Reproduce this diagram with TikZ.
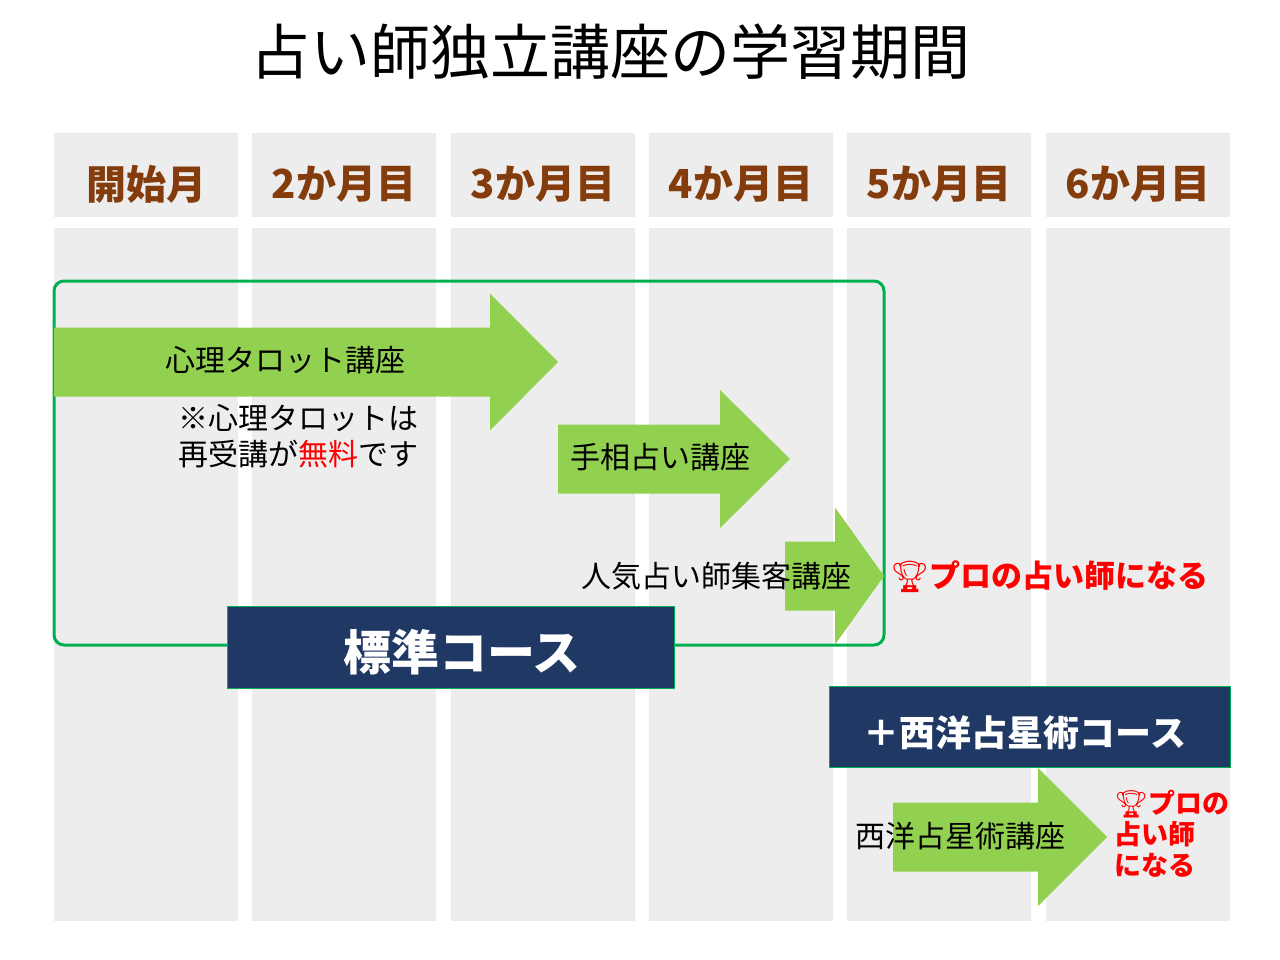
\documentclass[tikz,border=0pt]{standalone}
\usepackage{fontspec}
\setmainfont{Noto Sans CJK JP}
\newfontfamily\emojifont{Noto Emoji}
\usetikzlibrary{positioning}

\definecolor{colgray}{HTML}{EDEDED}
\definecolor{headbrown}{HTML}{843C0C}
\definecolor{boxgreen}{HTML}{00B050}
\definecolor{arrowgreen}{HTML}{92D050}
\definecolor{navy}{HTML}{203864}
\definecolor{goalred}{HTML}{FF0000}

\tikzset{
  colbox/.style={fill=colgray, draw=black!8},
  head/.style={font=\bfseries\fontsize{40}{44}\selectfont, text=headbrown},
  lbl/.style={font=\fontsize{30}{36}\selectfont, inner sep=0pt},
  goal/.style={font=\bfseries\fontsize{31}{34}\selectfont, text=goalred, inner sep=0pt},
  course/.style={fill=navy, draw=boxgreen, line width=1pt},
  coursetxt/.style={text=white, font=\bfseries\fontsize{#1}{#1}\selectfont},
  flow/.style={fill=arrowgreen}
}
% body x0..x1, half height h, head to x2, head half height H, mid y
\newcommand{\flowarrow}[6]{%
  \fill[flow] (#1,#5-#3) -- (#2,#5-#3) -- (#2,#5-#4) -- (#6,#5) -- (#2,#5+#4) -- (#2,#5+#3) -- (#1,#5+#3) -- cycle;}

\begin{document}
\begin{tikzpicture}[x=1pt,y=-1pt]
\useasboundingbox (0,0) rectangle (1280,960);
% title
\node (title) at (610,52) {\fontsize{60}{66}\selectfont 占い師独立講座の学習期間};

% month columns
\foreach \x/\m [count=\i] in {54/開始月,252/2か月目,451/3か月目,649/4か月目,847/5か月目,1046/6か月目}{
  \fill[colbox] (\x,133) rectangle (\x+183,216);
  \fill[colbox] (\x,228) rectangle (\x+183,920);
  \node[head] (m\i) at (\x+92,184) {\m};
}

% standard course frame
\draw[boxgreen, line width=3pt, rounded corners=10pt] (54,281) rectangle (884,645);

% arrows
\flowarrow{54}{490}{34.5}{68.5}{362}{558}
\flowarrow{558}{720}{34.5}{69}{459}{790}
\flowarrow{785}{835}{34.5}{68.5}{576}{884}
\flowarrow{893}{1038}{34.5}{69}{837}{1107}

% labels
\node[lbl] (tarot) at (285,360) {心理タロット講座};
\node[lbl, align=left, anchor=north west] (note) at (178,404)
  {※心理タロットは\\再受講が\textcolor{goalred}{無料}です};
\node[lbl] (palm) at (660,457) {手相占い講座};
\node[lbl, anchor=east] (attract) at (852,576) {人気占い師集客講座};
\node[goal, anchor=west] (goal1) at (890,577) {{\emojifont 🏆}プロの占い師になる};

% courses
\draw[course] (227,606) rectangle (674,688);
\node[coursetxt=48] (std) at (462,652) {標準コース};
\draw[course] (829,686) rectangle (1230,767);
\node[coursetxt=36] (astro) at (1025,733) {＋西洋占星術コース};

\node[lbl, anchor=west] (astrolbl) at (855,836) {西洋占星術講座};
\node[goal, anchor=north west, align=left, font=\bfseries\fontsize{27}{31}\selectfont] (goal2) at (1114,790)
  {{\emojifont 🏆}プロの\\占い師\\になる};
\end{tikzpicture}
\end{document}
